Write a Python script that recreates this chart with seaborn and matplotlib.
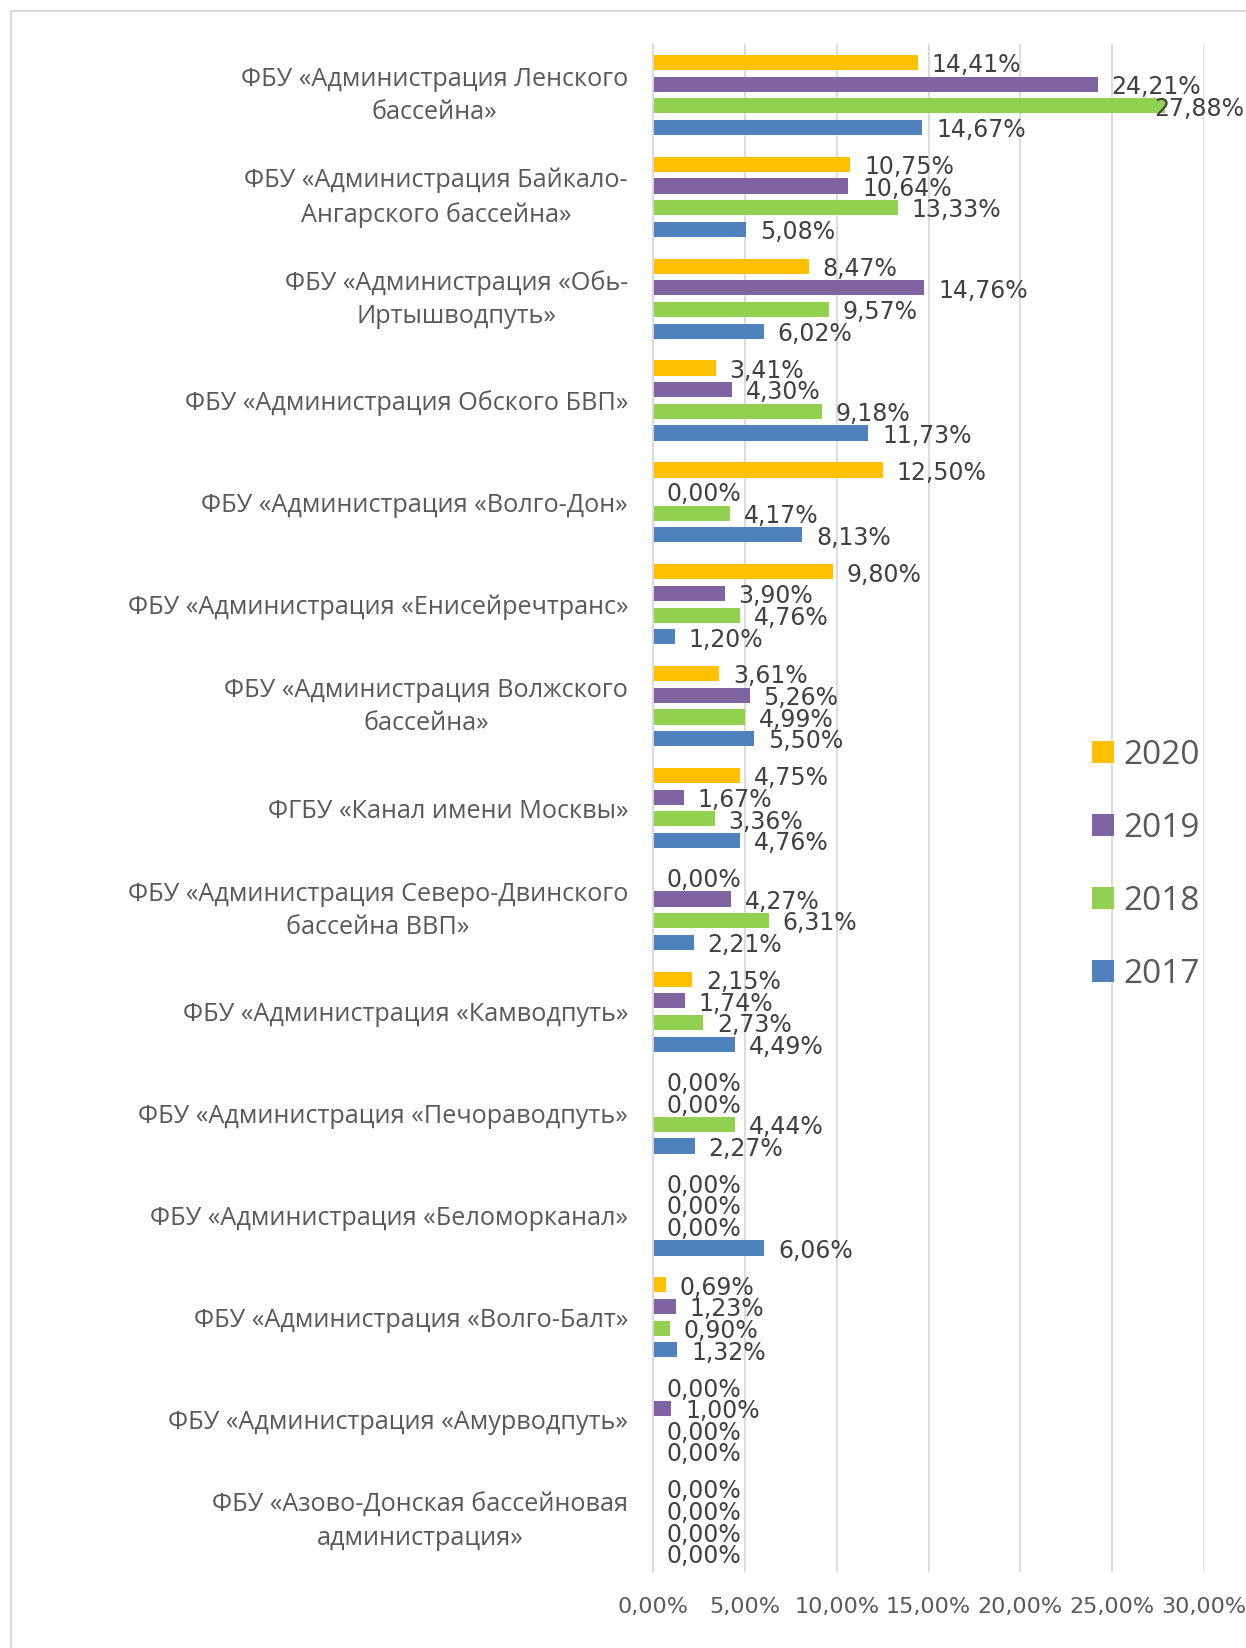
import numpy as np
import pandas as pd
import seaborn as sns
import matplotlib
matplotlib.use("Agg")
import matplotlib.pyplot as plt
import matplotlib.transforms as mtransforms
from matplotlib.patches import Patch, Rectangle

categories = [
    "ФБУ «Администрация Ленского\nбассейна»",
    "ФБУ «Администрация Байкало-\nАнгарского бассейна»",
    "ФБУ «Администрация «Обь-\nИртышводпуть»",
    "ФБУ «Администрация Обского БВП»",
    "ФБУ «Администрация «Волго-Дон»",
    "ФБУ «Администрация «Енисейречтранс»",
    "ФБУ «Администрация Волжского\nбассейна»",
    "ФГБУ «Канал имени Москвы»",
    "ФБУ «Администрация Северо-Двинского\nбассейна ВВП»",
    "ФБУ «Администрация «Камводпуть»",
    "ФБУ «Администрация «Печораводпуть»",
    "ФБУ «Администрация «Беломорканал»",
    "ФБУ «Администрация «Волго-Балт»",
    "ФБУ «Администрация «Амурводпуть»",
    "ФБУ «Азово-Донская бассейновая\nадминистрация»",
]
years = ["2020", "2019", "2018", "2017"]
v2020 = [14.41, 10.75, 8.47, 3.41, 12.50, 9.80, 3.61, 4.75, 0.00, 2.15, 0.00, 0.00, 0.69, 0.00, 0.00]
v2019 = [24.21, 10.64, 14.76, 4.30, 0.00, 3.90, 5.26, 1.67, 4.27, 1.74, 0.00, 0.00, 1.23, 1.00, 0.00]
v2018 = [27.88, 13.33, 9.57, 9.18, 4.17, 4.76, 4.99, 3.36, 6.31, 2.73, 4.44, 0.00, 0.90, 0.00, 0.00]
v2017 = [14.67, 5.08, 6.02, 11.73, 8.13, 1.20, 5.50, 4.76, 2.21, 4.49, 2.27, 6.06, 1.32, 0.00, 0.00]
x_ticks = [0, 5, 10, 15, 20, 25, 30]
colors = {"2020": "#FFC000", "2019": "#8064A2", "2018": "#92D050", "2017": "#4F81BD"}

series = {"2020": v2020, "2019": v2019, "2018": v2018, "2017": v2017}
rows = []
for y in years:
    for c, v in zip(categories, series[y]):
        rows.append({"cat": c, "year": y, "value": v / 100.0})
df = pd.DataFrame(rows)

sns.set_theme(style="white")
cat_font = ["Open Sans", "DejaVu Sans"]
num_font = ["Liberation Sans Narrow", "DejaVu Sans"]
plt.rcParams["font.family"] = cat_font

W, H = 1246, 1648
fig = plt.figure(figsize=(W / 100, H / 100), dpi=100)
fig.patch.set_facecolor("white")
fig.patches.append(Rectangle((11 / W, -0.1), 2.0, 1 - 11 / H + 0.1, transform=fig.transFigure,
                             fill=False, edgecolor="#d9d9d9", linewidth=1.5))

ax = fig.add_axes([653 / W, 76 / H, 551 / W, 1528 / H])
sns.barplot(data=df, x="value", y="cat", hue="year", hue_order=years, order=categories,
            palette=colors, saturation=1, orient="h", width=0.85, gap=0.3, errorbar=None,
            linewidth=0, legend=False, ax=ax)

ax.set_xlim(0, 0.30)
ax.set_ylim(len(categories) - 0.5, -0.5)
ax.set_xticks([t / 100 for t in x_ticks])
ax.set_xticklabels([f"{t:.2f}%".replace(".", ",") for t in x_ticks], fontsize=16,
                   color="#595959", family=num_font)
ax.tick_params(axis="x", length=0, pad=18)
ax.xaxis.grid(True, color="#d9d9d9", linewidth=1.3)
ax.set_axisbelow(True)
ax.set_xlabel("")
ax.set_ylabel("")
for s in ["top", "right", "bottom"]:
    ax.spines[s].set_visible(False)
ax.spines["left"].set_color("#d9d9d9")
ax.spines["left"].set_linewidth(1.3)

ax.set_yticks(range(len(categories)))
ax.set_yticklabels(categories, fontsize=18.2, color="#595959", multialignment="center",
                   linespacing=1.42)
ax.tick_params(axis="y", which="major", length=0, pad=18)
ax.set_yticks([i - 0.5 for i in range(len(categories) + 1)], minor=True)
ax.tick_params(axis="y", which="minor", length=7, color="#d9d9d9", width=1.3)

shift = mtransforms.ScaledTranslation(0, 4.5 / 72, fig.dpi_scale_trans)
for lab in ax.get_yticklabels():
    if "\n" in lab.get_text():
        lab.set_transform(lab.get_transform() + shift)

texts = []
for cont, y in zip(ax.containers, years):
    labels = [f"{v:.2f}%".replace(".", ",") for v in series[y]]
    t = ax.bar_label(cont, labels=labels, padding=10, fontsize=17, color="#404040",
                     family=num_font)
    texts.extend(t)

fig.canvas.draw()
r = fig.canvas.get_renderer()
for t in texts:
    bb = t.get_window_extent(r)
    off = t.xyann
    dx = 0
    if bb.x1 > W - 2:
        dx = -(bb.x1 - (W - 2)) * 72 / 100
    t.xyann = (off[0] + dx, off[1] - 2)

handles = [Patch(facecolor=colors[y], edgecolor="none") for y in years]
fig.legend(handles, years, loc="center left", bbox_to_anchor=(1092 / W, 1 - 865 / H),
           frameon=False, fontsize=24, handlelength=0.65, handleheight=0.65,
           handletextpad=0.3, labelspacing=1.2, borderpad=0, borderaxespad=0,
           labelcolor="#595959")

fig.savefig("out.png", dpi=100, facecolor="white")
